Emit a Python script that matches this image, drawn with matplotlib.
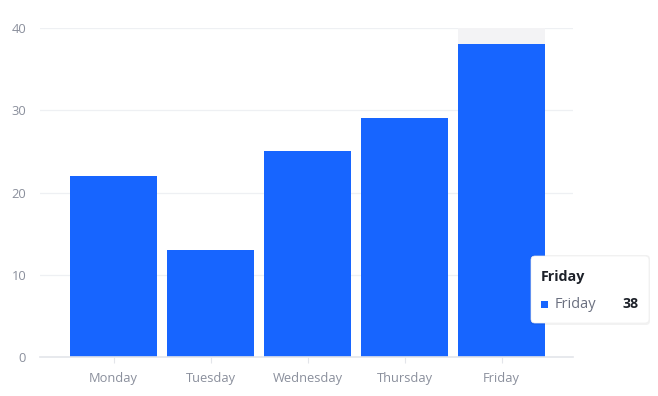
import matplotlib
matplotlib.use("Agg")
import matplotlib.pyplot as plt
from matplotlib.patches import FancyBboxPatch, Rectangle

categories = ["Monday", "Tuesday", "Wednesday", "Thursday", "Friday"]
values = [22, 13, 25, 29, 38]
yticks = [0, 10, 20, 30, 40]
highlight = "Friday"

plt.rcParams['font.family'] = ['Open Sans', 'DejaVu Sans']

W, H = 658, 396
fig = plt.figure(figsize=(W/100, H/100), dpi=100)
L, R, T, B = 40, 573, 28, 357
ax = fig.add_axes([L/W, 1-B/H, (R-L)/W, (B-T)/H])

x = list(range(len(categories)))
blue = "#1765ff"
grid = "#eef0f3"
label_c = "#8a8f9c"

hi = categories.index(highlight)
ax.bar(hi, 40, width=0.897, color="#f3f3f5", zorder=1)
ax.bar(x, values, width=0.897, color=blue, zorder=2)

ax.set_xlim(-0.758, 4.737)
ax.set_ylim(0, 40)
ax.set_yticks(yticks)
ax.set_xticks(x)
ax.set_xticklabels(categories)
for s in ["top", "right", "left"]:
    ax.spines[s].set_visible(False)
ax.spines["bottom"].set_color("#e3e5ea")
ax.spines["bottom"].set_linewidth(1.2)
ax.yaxis.grid(True, color=grid, linewidth=0.9, zorder=0)
ax.set_axisbelow(True)
ax.tick_params(axis="y", length=0, pad=10, labelsize=9.3, labelcolor=label_c)
ax.tick_params(axis="x", length=4, color="#e3e5ea", pad=7, labelsize=9.3, labelcolor=label_c)

# tooltip
def px(xp, yp):
    return (xp/W, 1-yp/H)

shadow = FancyBboxPatch(px(530, 325), 120/W, 70/H, boxstyle="round,pad=0,rounding_size=0.006",
                        transform=fig.transFigure, facecolor="#000000", alpha=0.05, edgecolor="none",
                        mutation_aspect=W/H)
fig.patches.append(shadow)
box = FancyBboxPatch(px(531, 323), 118/W, 67/H, boxstyle="round,pad=0,rounding_size=0.006",
                     transform=fig.transFigure, facecolor="white", edgecolor="#f0f0f0", linewidth=0.5,
                     mutation_aspect=W/H)
fig.patches.append(box)
fig.text(*px(541, 277), highlight, fontsize=10.3, fontweight="bold", color="#1d2129", va="center", ha="left")
fig.patches.append(Rectangle(px(541, 307.5), 7/W, 7/H, transform=fig.transFigure, facecolor=blue, edgecolor="none"))
fig.text(*px(555, 304), highlight, fontsize=10.5, color="#6b7080", va="center", ha="left")
fig.text(*px(639, 304), str(values[hi]), fontsize=10.3, fontweight="bold", color="#1d2129", va="center", ha="right")

fig.savefig("out.png", dpi=100)
